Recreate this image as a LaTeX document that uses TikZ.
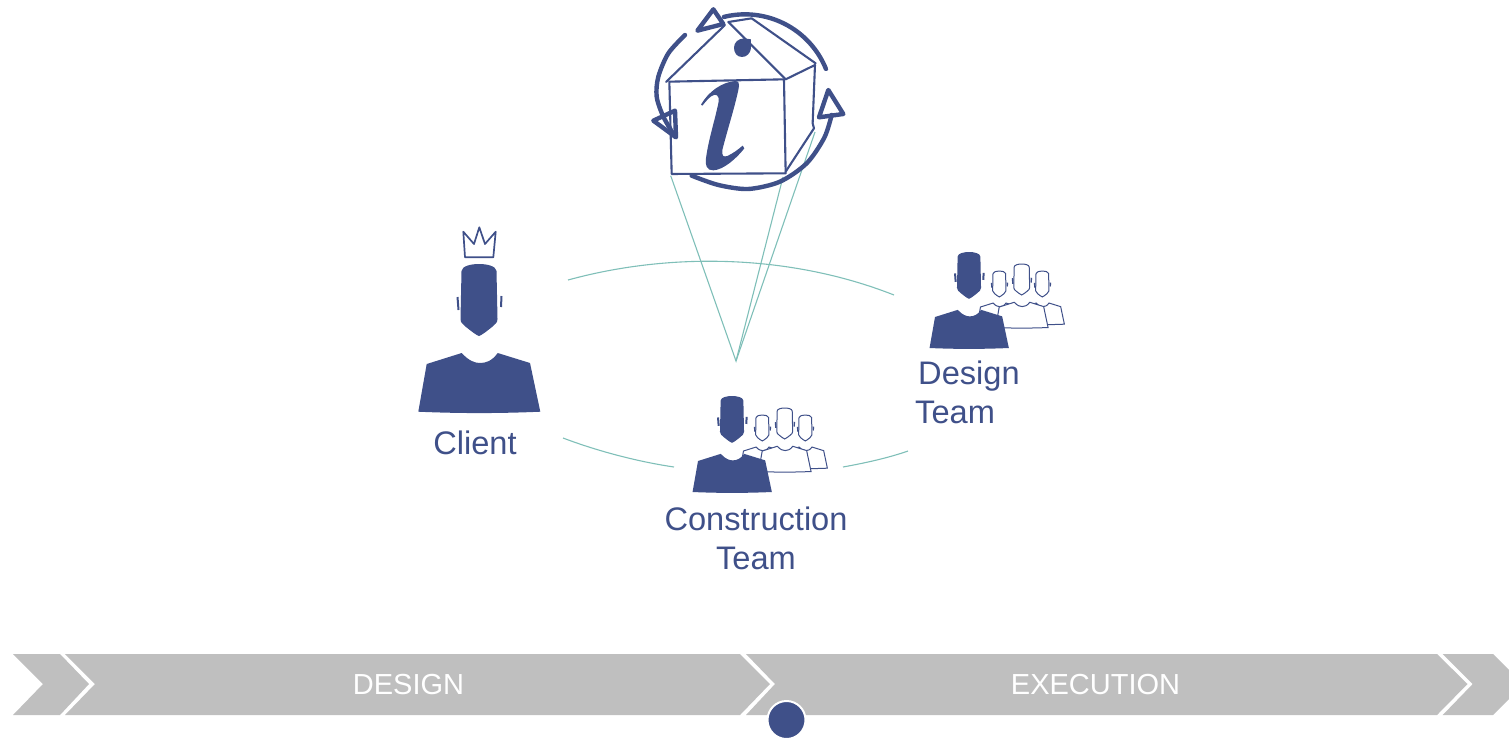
\documentclass[tikz,border=0pt]{standalone}
\usepackage{fontspec}
\setmainfont{Liberation Sans}
\definecolor{navy}{HTML}{3F5089}
\definecolor{tealline}{HTML}{7FBFB8}
\definecolor{bargray}{HTML}{BFBFBF}
\newcommand{\headpath}{(-17.5,7) .. controls (-17,2) and (-8,0) .. (0,0) .. controls (8,0) and (17,2) .. (17.5,7) -- (18.5,55) .. controls (18.5,59) and (16,60) .. (13,63) .. controls (8,67) and (3,71) .. (0,72) .. controls (-3,71) and (-8,67) .. (-13,63) .. controls (-16,60) and (-18.5,59) .. (-18.5,55) -- cycle}
\newcommand{\bodypath}{(-17.3,89) .. controls (-10,97) and (-4,99) .. (1,99) .. controls (7,99) and (13,97) .. (18.7,89) -- (51,99) -- (61.3,147.7) .. controls (20,149.5) and (-20,149.5) .. (-60.7,147.7) -- (-52.3,100) -- cycle}
\newcommand{\earspath}{(-21.5,33) -- (-20.5,46) (22.5,32) -- (22,43)}
\tikzset{
  solidperson/.pic={
    \fill[navy] \headpath;
    \fill[navy] \bodypath;
    \draw[navy,line width=2pt] \earspath;
  },
  lineperson/.pic={
    \draw[navy,line width=1pt,fill=white] \bodypath;
    \draw[navy,line width=1pt,fill=white] \headpath;
    \draw[navy,line width=1.4pt] \earspath;
  },
  teamline/.style={tealline,line width=1.1pt},
  housestroke/.style={navy,line width=2.1pt,line cap=round,line join=round},
  cyclestroke/.style={navy,line width=4.4pt,line cap=round,line join=round},
  label/.style={text=navy,font=\fontsize{32.6}{39}\selectfont,inner sep=0pt,align=center},
  barlabel/.style={text=white,font=\fontsize{29}{36}\selectfont,inner sep=0pt},
  chevron/.style={fill=bargray,draw=none},
}
\newcommand{\drawteam}[1]{%
  \begin{scope}[shift={(#1)}]
    \pic[scale=.36] at (30.3,19) {lineperson};
    \pic[scale=.36] at (73.3,19) {lineperson};
    \pic[scale=.43] at (52.7,12) {lineperson};
    \pic[scale=.65] at (0,0) {solidperson};
  \end{scope}}
\begin{document}
\begin{tikzpicture}[x=1pt,y=-1pt]
\useasboundingbox (0,0) rectangle (1509,737);
% connectors
\coordinate (apex) at (736,361);
\coordinate (h1) at (670.7,175.7);
\coordinate (h2) at (783,177);
\coordinate (h3) at (815,132);
\draw[teamline] (h1) -- (apex) -- (h2);
\draw[teamline] (apex) -- (h3);
\coordinate (a1) at (568,280);
\coordinate (a2) at (894,295);
\coordinate (b1) at (563,438);
\coordinate (b2) at (674,467);
\coordinate (c1) at (843,467);
\coordinate (c2) at (908,451);
\draw[teamline] (a1) .. controls (670,252) and (790,254) .. (a2);
\draw[teamline] (b1) .. controls (600,452) and (640,462) .. (b2);
\draw[teamline] (c1) .. controls (865,463) and (888,458) .. (c2);
% house icon, in zoom coordinates
\begin{scope}[shift={(640,0)},x=.3333pt,y=-.3333pt]
  \draw[housestroke,fill=white] (88,245) -- (432,238) -- (437,520) -- (95,522) -- cycle;
  \draw[housestroke] (78,246) -- (255,75) (265,66) -- (437,238) -- (525,195) -- (518,370) -- (522,385) -- (437,515);
  \draw[housestroke] (265,66) -- (335,55) -- (527,190);
  \fill[navy] (282,143) .. controls (282,126) and (296,116) .. (312,115) -- (333,118) .. controls (331,125) and (334,135) .. (333,145) .. controls (331,160) and (320,171) .. (306,171) .. controls (292,171) and (282,160) .. (282,143) -- cycle;
  \fill[navy] (183,314) .. controls (205,275) and (245,247) .. (285,243) .. controls (297,243) and (298,250) .. (296,265)
     .. controls (285,320) and (262,390) .. (247,450) .. controls (245,468) and (250,472) .. (262,468)
     .. controls (280,460) and (295,448) .. (308,437) -- (313,445) .. controls (290,475) and (250,510) .. (220,511)
     .. controls (200,512) and (195,495) .. (198,475) .. controls (205,420) and (225,360) .. (236,305)
     .. controls (238,285) and (228,280) .. (215,288) .. controls (205,295) and (197,305) .. (187,317) -- cycle;
  \draw[cyclestroke] plot[domain=104:22,samples=40] ({315+262*cos(\x)},{305-262*sin(\x)});
  \draw[cyclestroke] plot[smooth] coordinates {(155,527) (235,555) (325,567) (420,545) (500,490) (553,413) (575,345)};
  \draw[cyclestroke] plot[smooth] coordinates {(135,105) (85,160) (55,230) (50,290) (70,350) (105,410)};
  \draw[cyclestroke] (220,28) -- (172,92) -- (250,72) -- cycle;
  \draw[cyclestroke] (565,270) -- (610,342) -- (537,352) -- cycle;
  \draw[cyclestroke] (105,332) -- (40,362) -- (108,412) -- cycle;
\end{scope}
% client
\pic at (479,264) {solidperson};
\draw[navy,line width=1.7pt,line join=round] (463.3,231.7) -- (465,257.3) -- (493.3,257.3) -- (495.7,231.7) -- (485,244) -- (479.3,227.3) -- (474,244) -- cycle;
\node[label] (client) at (475,443) {Client};
% teams
\drawteam{969,252}
\drawteam{732,396}
\node[label,align=left,anchor=north west] (design) at (915,361) {\hspace*{3pt}Design\\Team};
\node[label,anchor=north] (construction) at (756,507) {Construction\\Team};
% phase bar
\fill[chevron] (13,654) -- (60,654) -- (89,684) -- (60,715) -- (13,715) -- (43,684) -- cycle;
\fill[chevron] (65,654) -- (740,654) -- (770,684) -- (740,715) -- (65,715) -- (95,684) -- cycle;
\fill[chevron] (746,654) -- (1437,654) -- (1467.5,684) -- (1437,715) -- (746,715) -- (775,684) -- cycle;
\fill[chevron] (1442.7,654) -- (1493,654) -- (1509,670) -- (1509,699) -- (1493,715) -- (1442.7,715) -- (1472.7,684) -- cycle;
\node[barlabel] (designlabel) at (408.5,685) {DESIGN};
\node[barlabel] (execlabel) at (1095.5,685) {EXECUTION};
\node[circle,fill=navy,draw=white,line width=2pt,minimum size=38pt,inner sep=0pt] (marker) at (786.5,720) {};
\end{tikzpicture}
\end{document}
